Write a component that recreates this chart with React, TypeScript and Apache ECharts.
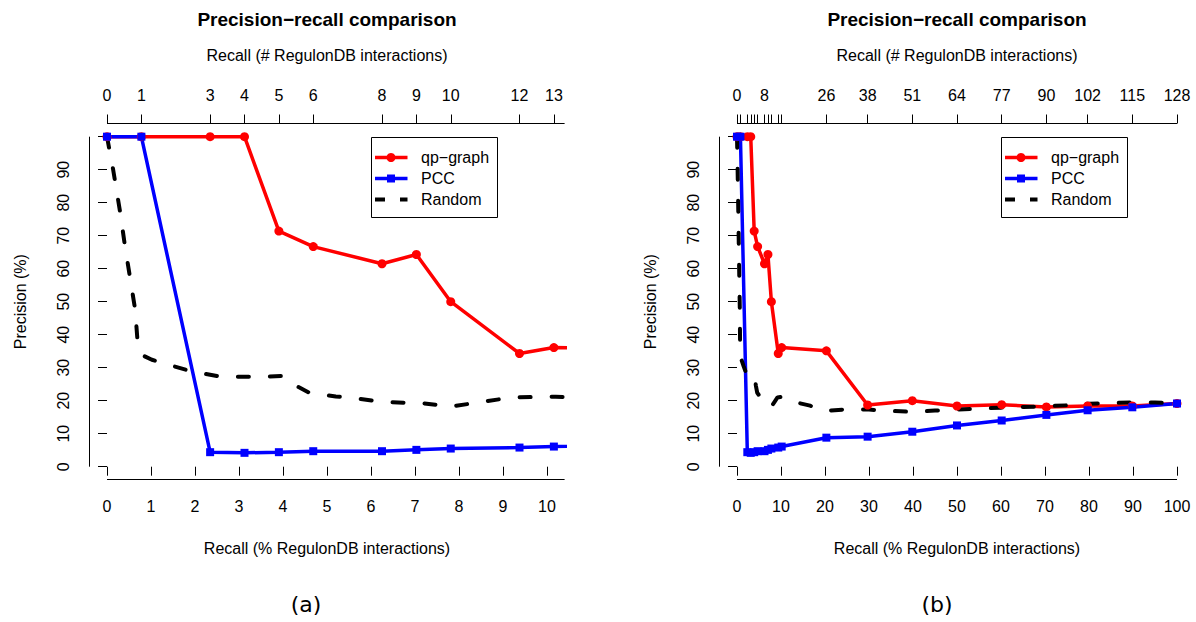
import React, { useEffect, useRef } from "react";
import * as echarts from "echarts";

const TOTAL_INTERACTIONS = 128;
const recallCounts = [0, 1, 3, 4, 5, 6, 8, 9, 10, 12, 13, 26, 38, 51, 64, 77, 90, 102, 115, 128];
const qpGraphPrecision = [100, 100, 100, 100, 71.4, 66.7, 61.5, 64.3, 50, 34.3, 36.1, 35.1, 18.7, 20.0, 18.4, 18.8, 18.1, 18.4, 18.4, 19.15];
const pccPrecision = [100, 100, 4.4, 4.2, 4.4, 4.7, 4.7, 5.1, 5.5, 5.8, 6.1, 8.8, 9.1, 10.6, 12.5, 14.0, 15.7, 17.1, 18.0, 19.15];
const randomRecallPct = [0, 0.14, 0.3, 0.41, 0.52, 0.64, 0.7, 0.85, 1.02, 1.5, 1.95, 2.5, 2.8, 3.5, 3.97, 4.3, 4.6, 5.2, 5.7, 6.3, 7.2, 7.8, 8.5, 9.2, 10.2, 12, 14, 16.6, 18.9, 21, 24, 27, 30, 35, 40, 45, 50, 55, 60, 65, 70, 75, 80, 85, 90, 95, 100];
const randomPrecision = [100, 90, 77, 66.7, 57.6, 47.6, 37, 33.5, 32.4, 30.5, 28.8, 27.5, 27.3, 27.2, 27.5, 24.5, 22.4, 21.3, 20.6, 19.6, 19.2, 18.2, 19.6, 21, 21.2, 20.3, 19.3, 18.5, 17.2, 17, 17.3, 17.4, 17.3, 16.9, 16.6, 17.0, 17.3, 17.6, 17.9, 18.1, 18.3, 18.6, 19.1, 19.3, 19.45, 19.45, 19.15];

const yTicks = [0, 10, 20, 30, 40, 50, 60, 70, 80, 90, 100];
const yLabels = [0, 10, 20, 30, 40, 50, 60, 70, 80, 90];
const panelATopTicks = [0, 1, 3, 4, 5, 6, 8, 9, 10, 12, 13];
const panelATopLabels = [0, 1, 3, 4, 5, 6, 8, 9, 10, 12, 13];
const panelBTopTicks = [0, 1, 3, 4, 5, 6, 8, 9, 10, 12, 13, 26, 38, 51, 64, 77, 90, 102, 115, 128];
const panelBTopLabels = [0, 8, 26, 38, 51, 64, 77, 90, 102, 115, 128];
const panelABottomTicks = [0, 1, 2, 3, 4, 5, 6, 7, 8, 9, 10];
const panelBBottomTicks = [0, 10, 20, 30, 40, 50, 60, 70, 80, 90, 100];
const seriesNames = ["qp\u2212graph", "PCC", "Random"];
const titleText = "Precision\u2212recall comparison";
const topAxisName = "Recall (# RegulonDB interactions)";
const bottomAxisName = "Recall (% RegulonDB interactions)";
const yAxisName = "Precision (%)";
const captions = ["(a)", "(b)"];

const FONT = "'Liberation Sans', Arial, Helvetica, sans-serif";
const RED = "#ff0000";
const BLUE = "#0000ff";
const BLACK = "#000000";

const toPct = (n: number) => (n / TOTAL_INTERACTIONS) * 100;

const panels = [
  { xMin: -0.4, xMax: 10.4, lineEnd: 10.4, bottomTicks: panelABottomTicks, topTicks: panelATopTicks, topLabels: panelATopLabels, left: 89.4, legendX: 6, caption: 306 },
  { xMin: -4, xMax: 104, lineEnd: 100, bottomTicks: panelBBottomTicks, topTicks: panelBTopTicks, topLabels: panelBTopLabels, left: 719.4, legendX: 60, caption: 937 },
];
const GRID_TOP = 123.5;
const GRID_W = 475.2;
const GRID_H = 356.4;

function buildOption() {
  const tickStyle = { color: BLACK, width: 1 };
  const labelStyle = { color: BLACK, fontSize: 16, fontFamily: FONT };
  const nameStyle = { color: BLACK, fontSize: 16, fontFamily: FONT };
  const grid: any[] = [];
  const xAxis: any[] = [];
  const yAxis: any[] = [];
  const series: any[] = [];
  panels.forEach((p, gi) => {
    grid.push({ left: p.left, top: GRID_TOP, width: GRID_W, height: GRID_H, containLabel: false });
    xAxis.push({
      type: "value", gridIndex: gi, position: "bottom", min: p.xMin, max: p.xMax,
      axisLine: { show: false },
      axisTick: { show: true, length: 9, lineStyle: tickStyle, customValues: p.bottomTicks },
      axisLabel: { ...labelStyle, margin: 19, customValues: p.bottomTicks },
      splitLine: { show: false },
      name: bottomAxisName, nameLocation: "middle", nameGap: 61, nameTextStyle: nameStyle,
    });
    xAxis.push({
      type: "value", gridIndex: gi, position: "top", min: p.xMin, max: p.xMax,
      axisLine: { show: false },
      axisTick: { show: true, length: 9, lineStyle: tickStyle, customValues: p.topTicks.map(toPct) },
      axisLabel: {
        ...labelStyle, margin: 20, customValues: p.topLabels.map(toPct),
        formatter: (v: number) => String(Math.round((v * TOTAL_INTERACTIONS) / 100)),
      },
      splitLine: { show: false },
      name: topAxisName, nameLocation: "middle", nameGap: 60, nameTextStyle: nameStyle,
    });
    yAxis.push({
      type: "value", gridIndex: gi, min: -4, max: 104,
      axisLine: { show: false },
      axisTick: { show: true, length: 9, lineStyle: tickStyle, customValues: yTicks },
      axisLabel: { ...labelStyle, margin: 18, rotate: 90, customValues: yLabels },
      splitLine: { show: false },
      name: yAxisName, nameLocation: "middle", nameGap: 61, nameRotate: 90, nameTextStyle: nameStyle,
    });
    const xi = gi * 2;
    series.push({
      type: "line", name: seriesNames[0], xAxisIndex: xi, yAxisIndex: gi, clip: true,
      data: recallCounts.map((c, i) => [toPct(c), qpGraphPrecision[i]]),
      symbol: "circle", symbolSize: 9, showSymbol: true,
      lineStyle: { color: RED, width: 3.5 }, itemStyle: { color: RED },
    });
    series.push({
      type: "line", name: seriesNames[1], xAxisIndex: xi, yAxisIndex: gi, clip: true,
      data: recallCounts.map((c, i) => [toPct(c), pccPrecision[i]]),
      symbol: "rect", symbolSize: 8, showSymbol: true,
      lineStyle: { color: BLUE, width: 3.5 }, itemStyle: { color: BLUE },
    });
    series.push({
      type: "line", name: seriesNames[2], xAxisIndex: xi, yAxisIndex: gi, clip: true,
      data: randomRecallPct.map((x, i) => [x, randomPrecision[i]]),
      symbol: "none",
      lineStyle: { color: BLACK, width: 4, type: [11, 21], cap: "round" },
    });
  });
  return { animation: false, backgroundColor: "#ffffff", grid, xAxis, yAxis, series };
}

export default function App() {
  const ref = useRef<HTMLDivElement>(null);
  useEffect(() => {
    const chart = echarts.init(ref.current!, null, { renderer: "svg" });
    chart.setOption(buildOption());
    const snap = (v: number) => Math.round(v - 0.5) + 0.5;
    const graphic: any[] = [];
    panels.forEach((p, gi) => {
      const px = (x: number, y: number) => chart.convertToPixel({ xAxisIndex: gi * 2, yAxisIndex: gi }, [x, y]) as number[];
      const line = (a: number[], b: number[]) => ({
        type: "line", silent: true,
        shape: { x1: a[0], y1: a[1], x2: b[0], y2: b[1] },
        style: { stroke: BLACK, lineWidth: 1 },
      });
      const b0 = px(0, -4), b1 = px(p.lineEnd, -4);
      graphic.push(line([b0[0], snap(b0[1])], [b1[0], snap(b1[1])]));
      const t0 = px(0, 104), t1 = px(p.lineEnd, 104);
      graphic.push(line([t0[0], snap(t0[1])], [t1[0], snap(t1[1])]));
      const l0 = px(p.xMin, 0), l1 = px(p.xMin, 100);
      graphic.push(line([snap(l0[0]), l0[1]], [snap(l1[0]), l1[1]]));

      const center = (px(p.xMin, 0)[0] + px(p.xMax, 0)[0]) / 2;
      graphic.push({
        type: "text", x: center, y: 19,
        style: { text: titleText, fill: BLACK, font: `bold 19px ${FONT}`, align: "center", verticalAlign: "middle" },
      });
      graphic.push({
        type: "text", x: p.caption, y: 604,
        style: { text: captions[gi], fill: BLACK, font: `22px 'DejaVu Sans', sans-serif`, align: "center", verticalAlign: "middle" },
      });

      // legend
      const lt = px(p.legendX, 100);
      const bx = Math.round(lt[0]) + 0.5, by = Math.round(lt[1]) + 0.5;
      graphic.push({
        type: "rect", shape: { x: bx, y: by, width: 126, height: 80 },
        style: { fill: "#ffffff", stroke: BLACK, lineWidth: 1 }, z: 10,
      });
      const rows = [20, 41, 62];
      const sx1 = bx + 3.5, sx2 = bx + 36, sc = bx + 19.5;
      rows.forEach((dy, k) => {
        const yy = by + dy;
        if (k === 0) {
          graphic.push({ type: "line", z: 11, shape: { x1: sx1, y1: yy, x2: sx2, y2: yy }, style: { stroke: RED, lineWidth: 3.5 } });
          graphic.push({ type: "circle", z: 12, shape: { cx: sc, cy: yy, r: 4.5 }, style: { fill: RED } });
        } else if (k === 1) {
          graphic.push({ type: "line", z: 11, shape: { x1: sx1, y1: yy, x2: sx2, y2: yy }, style: { stroke: BLUE, lineWidth: 3.5 } });
          graphic.push({ type: "rect", z: 12, shape: { x: sc - 4, y: yy - 4, width: 8, height: 8 }, style: { fill: BLUE } });
        } else {
          graphic.push({ type: "line", z: 11, shape: { x1: sx1, y1: yy, x2: sx2, y2: yy }, style: { stroke: BLACK, lineWidth: 4, lineDash: [10, 15] } });
        }
        graphic.push({
          type: "text", z: 12, x: bx + 49.5, y: yy,
          style: { text: seriesNames[k], fill: BLACK, font: `16px ${FONT}`, align: "left", verticalAlign: "middle" },
        });
      });
    });
    chart.setOption({ graphic });
    return () => chart.dispose();
  }, []);
  return <div ref={ref} style={{ position: "fixed", left: 0, top: 0, width: 1196, height: 622, background: "#ffffff" }} />;
}
